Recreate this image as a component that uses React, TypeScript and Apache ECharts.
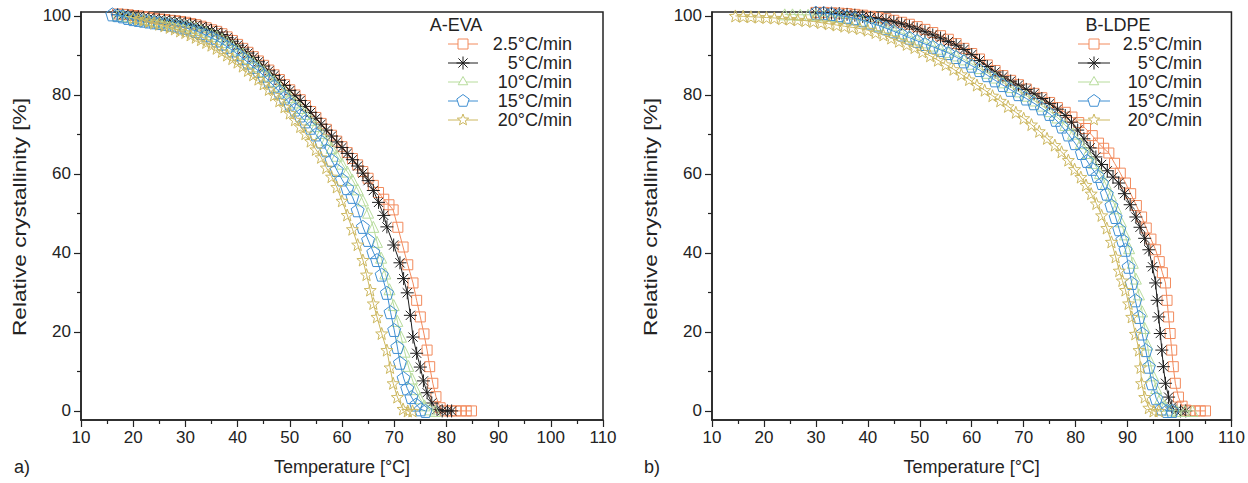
import React, { useEffect, useRef } from 'react';
import * as echarts from 'echarts';

const FONT = '"Liberation Sans", Arial, Helvetica, sans-serif';
const INK = '#232323';

const TEMP_LABEL = 'Temperature [°C]';
const CRYST_LABEL = 'Relative crystallinity [%]';
const RATES = ['2.5°C/min', '5°C/min', '10°C/min', '15°C/min', '20°C/min'];
const COLORS = ['#f28a5c', '#1e1e1e', '#b7dc9c', '#3f8fd2', '#cdb860'];
const Y_MAJOR = [0, 20, 40, 60, 80, 100];
const Y_MINOR = [10, 30, 50, 70, 90];

// A-EVA: [temperature °C, relative crystallinity %]
const EVA_2_5: [number, number][] = [
  [17, 100.5], [18, 100.4], [19, 100.3], [20, 100.1], [21, 100.0], [22, 99.8], [23, 99.6], [24, 99.4], [25, 99.2],
  [26, 99.1], [27, 98.9], [28, 98.8], [29, 98.6], [30, 98.4], [31, 98.1], [32, 97.8], [33, 97.4], [34, 97.0],
  [35, 96.5], [36, 96.1], [37, 95.5], [38, 94.7], [39, 93.8], [40, 92.8], [41, 91.8], [42, 90.8], [43, 89.7],
  [44, 88.6], [45, 87.5], [46, 86.3], [47, 85.1], [48, 83.9], [49, 82.6], [50, 81.3], [51, 80.0], [52, 78.8],
  [53, 77.3], [54, 75.8], [55, 74.3], [56, 72.8], [57, 71.3], [58, 69.8], [59, 68.3], [60, 66.9], [61, 65.4],
  [62, 63.9], [63, 62.3], [64, 60.6], [65, 58.9], [66, 57.1], [67, 55.3], [68, 53.6], [69, 52.2], [69.8, 50.9],
  [70.7, 46.5], [71.7, 41.5], [72.6, 37.0], [73.6, 32.4], [74.3, 28.0], [75.0, 23.8], [75.7, 19.5], [76.3, 15.4],
  [76.8, 11.2], [77.4, 7.0], [78.0, 3.6], [78.8, 0.8], [79.8, 0], [80.8, 0], [81.8, 0], [82.8, 0], [83.8, 0], [84.8, 0],
];
const EVA_5: [number, number][] = [
  [17, 100.3], [18, 100.2], [19, 100.1], [20, 99.9], [21, 99.8], [22, 99.6], [23, 99.4], [24, 99.2], [25, 99.0],
  [26, 98.9], [27, 98.7], [28, 98.6], [29, 98.4], [30, 98.2], [31, 97.9], [32, 97.6], [33, 97.2], [34, 96.8],
  [35, 96.3], [36, 95.9], [37, 95.3], [38, 94.5], [39, 93.6], [40, 92.6], [41, 91.6], [42, 90.6], [43, 89.5],
  [44, 88.4], [45, 87.3], [46, 86.1], [47, 84.9], [48, 83.7], [49, 82.4], [50, 81.1], [51, 79.8], [52, 78.6],
  [53, 77.1], [54, 75.6], [55, 74.1], [56, 72.6], [57, 71.1], [58, 69.6], [59, 68.1], [60, 66.7], [61, 65.2],
  [62, 63.6], [63, 62.0], [64, 60.2], [65, 58.3], [66, 55.8], [67, 52.8], [68, 49.5], [68.6, 46.6], [69.9, 42.0],
  [71.1, 37.5], [71.8, 33.5], [72.5, 29.9], [73.1, 24.2], [73.6, 18.7], [74.3, 14.6], [75.0, 11.1], [75.6, 7.6],
  [76.3, 4.6], [77.2, 2.0], [78.2, 0.4], [79.2, 0], [80.2, 0], [81.0, 0],
];
const EVA_10: [number, number][] = [
  [17, 100.1], [18, 100.0], [19, 99.8], [20, 99.6], [21, 99.4], [22, 99.2], [23, 99.0], [24, 98.8], [25, 98.6],
  [26, 98.5], [27, 98.3], [28, 98.1], [29, 97.9], [30, 97.6], [31, 97.3], [32, 96.9], [33, 96.5], [34, 96.0],
  [35, 95.4], [36, 94.9], [37, 94.2], [38, 93.4], [39, 92.5], [40, 91.5], [41, 90.5], [42, 89.4], [43, 88.3],
  [44, 87.3], [45, 86.1], [46, 84.9], [47, 83.6], [48, 82.3], [49, 80.9], [50, 79.5], [51, 78.1], [52, 76.7],
  [53, 75.2], [54, 73.7], [55, 72.1], [56, 70.4], [57, 68.6], [58, 66.6], [59, 64.6], [60, 62.6], [61, 60.6],
  [62, 58.5], [63, 56.1], [64, 53.3], [65, 50.2], [66, 46.6], [66.7, 42.8], [67.5, 38.8], [68.3, 34.8], [69.1, 30.8],
  [69.9, 26.8], [70.6, 22.8], [71.3, 18.8], [72.0, 15.0], [72.7, 11.4], [73.4, 8.2], [74.1, 5.5], [74.9, 3.2],
  [75.8, 1.4], [76.8, 0.4], [77.8, 0],
];
const EVA_15: [number, number][] = [
  [16, 100.4], [17, 100.2], [18, 99.9], [19, 99.5], [20, 99.2], [21, 99.0], [22, 98.8], [23, 98.6], [24, 98.4],
  [25, 98.2], [26, 98.0], [27, 97.8], [28, 97.6], [29, 97.3], [30, 97.0], [31, 96.6], [32, 96.2], [33, 95.7],
  [34, 95.1], [35, 94.5], [36, 93.8], [37, 93.0], [38, 92.2], [39, 91.3], [40, 90.3], [41, 89.3], [42, 88.2],
  [43, 87.1], [44, 86.1], [45, 84.9], [46, 83.6], [47, 82.2], [48, 80.8], [49, 79.3], [50, 77.8], [51, 76.3],
  [52, 74.8], [53, 73.3], [54, 71.7], [55, 70.0], [56, 68.2], [57, 66.0], [58, 63.5], [59, 61.0], [60, 58.6],
  [61, 56.4], [62, 54.2], [63, 50.8], [64, 46.6], [65, 43.3], [66, 40.2], [66.7, 38.2], [67.6, 34.5], [68.6, 29.9],
  [69.3, 25.0], [70.0, 20.5], [70.6, 16.2], [71.1, 12.2], [71.8, 8.3], [72.5, 5.7], [73.3, 3.5], [74.2, 1.6],
  [75.1, 0.4], [76.0, 0],
];
const EVA_20: [number, number][] = [
  [20, 99.5], [21, 99.2], [22, 98.9], [23, 98.6], [24, 98.2], [25, 97.9], [26, 97.5], [27, 97.1], [28, 96.7],
  [29, 96.2], [30, 95.8], [31, 95.2], [32, 94.6], [33, 94.0], [34, 93.3], [35, 92.6], [36, 91.8], [37, 91.0],
  [38, 90.1], [39, 89.2], [40, 88.3], [41, 87.3], [42, 86.2], [43, 85.1], [44, 84.0], [45, 82.8], [46, 81.4],
  [47, 80.0], [48, 78.5], [49, 77.0], [50, 75.4], [51, 73.7], [52, 72.0], [53, 70.2], [54, 68.3], [55, 66.2],
  [56, 64.2], [57, 61.6], [58, 59.3], [59, 56.7], [60, 53.2], [61, 49.6], [62, 46.0], [63, 42.1], [64, 38.2],
  [64.7, 34.5], [65.4, 30.6], [66.0, 27.2], [66.7, 23.8], [67.6, 19.6], [68.6, 15.4], [69.2, 11.0], [69.8, 7.0],
  [70.6, 3.5], [71.7, 0.5], [72.6, 0], [73.5, 0],
];

// B-LDPE: [temperature °C, relative crystallinity %]
const LDPE_2_5: [number, number][] = [
  [30, 100.9], [31.5, 100.9], [33, 100.8], [34.5, 100.7], [36, 100.6], [37.5, 100.4], [39, 100.2], [40.5, 99.9],
  [42, 99.6], [43.5, 99.3], [45, 98.9], [46.5, 98.4], [48, 97.9], [49.5, 97.3], [51, 96.6], [52.5, 95.8], [54, 95.0],
  [55.5, 94.1], [57, 93.0], [58.5, 91.8], [60, 90.5], [61.5, 89.1], [63, 87.6], [64.5, 86.2], [66, 84.9], [67.5, 83.7],
  [69, 82.6], [70.5, 81.5], [72, 80.4], [73.5, 79.3], [75, 78.1], [76.5, 76.8], [78, 75.6], [79.3, 74.4], [80.6, 73.0],
  [81.9, 71.5], [83.2, 69.7], [84.4, 67.8], [85.4, 66.5], [86.4, 65.3], [87.5, 62.7], [88.6, 60.2], [89.6, 57.7],
  [90.6, 55.0], [91.7, 52.0], [92.7, 49.1], [93.6, 46.3], [94.5, 43.5], [95.4, 40.8], [96.1, 37.8], [96.7, 35.0],
  [97.3, 32.4], [97.6, 28.0], [97.9, 23.8], [98.2, 19.6], [98.5, 15.4], [98.8, 11.2], [99.2, 7.0], [99.8, 3.5],
  [100.5, 1.2], [101.2, 0.2], [102, 0], [103, 0], [104, 0], [105, 0],
];
const LDPE_5: [number, number][] = [
  [30, 100.8], [31.5, 100.8], [33, 100.7], [34.5, 100.6], [36, 100.4], [37.5, 100.2], [39, 99.9], [40.5, 99.6],
  [42, 99.3], [43.5, 98.9], [45, 98.5], [46.5, 98.0], [48, 97.4], [49.5, 96.7], [51, 96.0], [52.5, 95.2], [54, 94.4],
  [55.5, 93.5], [57, 92.6], [58.5, 91.5], [60, 90.2], [61.5, 88.7], [63, 87.2], [64.5, 85.8], [66, 84.6], [67.5, 83.5],
  [69, 82.5], [70.5, 81.4], [72, 80.3], [73.5, 79.1], [75, 77.8], [76.5, 76.4], [78, 74.8], [79.2, 73.1], [80.4, 71.1],
  [81.6, 68.9], [82.8, 66.6], [83.9, 64.3], [85.0, 62.4], [86.1, 60.8], [87.2, 59.2], [88.3, 57.7], [89.4, 55.0],
  [90.5, 52.2], [91.6, 49.1], [92.4, 46.5], [93.3, 43.7], [94.1, 40.8], [94.8, 36.5], [95.4, 32.4], [95.7, 28.0],
  [96.0, 23.8], [96.3, 19.6], [96.6, 15.4], [96.9, 11.2], [97.3, 7.0], [97.9, 3.5], [98.5, 1.0], [99.3, 0],
  [100.2, 0], [101.2, 0],
];
const LDPE_10: [number, number][] = [
  [24, 100.4], [25.5, 100.4], [27, 100.3], [28.5, 100.3], [30, 100.2], [31.5, 100.1], [33, 100.0], [34.5, 99.8],
  [36, 99.5], [37.5, 99.2], [39, 98.8], [40.5, 98.3], [42, 97.7], [43.5, 97.1], [45, 96.4], [46.5, 95.7], [48, 94.9],
  [49.5, 94.1], [51, 93.3], [52.5, 92.5], [54, 91.7], [55.5, 90.9], [57, 90.0], [58.5, 89.0], [60, 87.9], [61.5, 86.8],
  [63, 85.6], [64.5, 84.4], [66, 83.2], [67.5, 82.0], [69, 80.9], [70.5, 79.8], [72, 78.6], [73.5, 77.3], [75, 75.9],
  [76.5, 74.3], [78, 72.4], [79.5, 70.2], [81, 67.8], [82.3, 65.3], [83.5, 62.8], [84.7, 60.2], [85.8, 57.5],
  [86.8, 54.5], [87.8, 51.3], [88.7, 48.0], [89.5, 44.7], [90.3, 41.2], [91.0, 37.5], [91.6, 33.5], [92.2, 29.5],
  [92.8, 25.2], [93.3, 21.0], [93.8, 16.8], [94.3, 12.8], [94.9, 9.0], [95.5, 5.8], [96.3, 3.2], [97.2, 1.3],
  [98.2, 0.3], [99.5, 0], [101, 0], [102.5, 0],
];
const LDPE_15: [number, number][] = [
  [30, 100.8], [31.5, 100.7], [33, 100.5], [34.5, 100.2], [36, 99.8], [37.5, 99.4], [39, 98.9], [40.5, 98.3],
  [42, 97.6], [43.5, 96.9], [45, 96.1], [46.5, 95.3], [48, 94.5], [49.5, 93.7], [51, 92.9], [52.5, 92.2], [54, 91.4],
  [55.5, 90.6], [57, 89.6], [58.5, 88.5], [60, 87.4], [61.5, 86.3], [63, 85.0], [64.5, 83.7], [66, 82.5], [67.5, 81.3],
  [69, 80.2], [70.5, 79.1], [72, 77.9], [73.5, 76.6], [75, 75.2], [76.2, 73.7], [77.4, 72.0], [78.6, 70.0], [79.9, 67.8],
  [81.2, 65.3], [82.2, 63.3], [83.2, 61.3], [84.2, 59.5], [85.1, 57.7], [86.0, 55.0], [86.9, 52.0], [87.7, 49.1],
  [88.4, 46.0], [89.0, 43.3], [89.6, 40.8], [90.2, 36.5], [90.8, 32.4], [91.5, 28.0], [92.2, 23.8], [92.8, 19.6],
  [93.5, 15.4], [94.1, 11.2], [94.7, 7.0], [95.5, 3.2], [96.6, 0.6], [97.6, 0], [98.6, 0],
];
const LDPE_20: [number, number][] = [
  [14.5, 100.0], [16, 99.9], [17.5, 99.8], [19, 99.7], [20.5, 99.6], [22, 99.5], [23.5, 99.3], [25, 99.2], [26.5, 99.0],
  [28, 98.8], [29.5, 98.6], [31, 98.3], [32.5, 98.0], [34, 97.7], [35.5, 97.4], [37, 97.1], [38.5, 96.8], [40, 96.4],
  [41.5, 95.8], [43, 95.2], [44.5, 94.4], [46, 93.6], [47.5, 92.8], [49, 92.0], [50.5, 90.9], [52, 89.9], [53.5, 88.8],
  [55, 87.7], [56.5, 86.5], [58, 85.2], [59.5, 83.9], [61, 82.5], [62.5, 81.2], [64, 79.8], [65.5, 78.5], [67, 77.1],
  [68.5, 75.6], [70, 74.1], [71.5, 72.5], [73, 70.8], [74.5, 69.0], [76, 67.3], [77.3, 65.6], [78.6, 63.5], [79.8, 61.2],
  [81, 59.2], [82, 57.2], [83, 55.0], [84, 52.5], [85, 49.5], [86, 46.3], [86.9, 42.8], [87.7, 39.0], [88.4, 35.5],
  [89.0, 33.0], [89.6, 30.6], [90.2, 27.2], [90.8, 23.8], [91.5, 19.5], [92.2, 15.4], [92.5, 11.0], [92.7, 7.0],
  [93.3, 3.5], [94.1, 0.8], [95, 0], [96, 0],
];

const EVA_SERIES = [EVA_2_5, EVA_5, EVA_10, EVA_15, EVA_20];
const LDPE_SERIES = [LDPE_2_5, LDPE_5, LDPE_10, LDPE_15, LDPE_20];

// Marker outlines on a unit box centred at 0,0
type Pt = [number, number];
const ring = (n: number, r: (i: number) => number, start = -90): Pt[] =>
  Array.from({ length: n }, (_, i) => {
    const a = ((start + (360 / n) * i) * Math.PI) / 180;
    return [+(Math.cos(a) * r(i)).toFixed(3), +(Math.sin(a) * r(i)).toFixed(3)] as Pt;
  });
const SQUARE: Pt[] = [[-1, -1], [1, -1], [1, 1], [-1, 1]];
const TRIANGLE: Pt[] = ring(3, () => 1);
const PENTAGON: Pt[] = ring(5, () => 1);
const STAR: Pt[] = ring(10, (i) => (i % 2 === 0 ? 1 : 0.42));
const ASTERISK: [Pt, Pt][] = [0, 45, 90, 135].map((d) => {
  const a = (d * Math.PI) / 180;
  const c = +Math.cos(a).toFixed(3);
  const s = +Math.sin(a).toFixed(3);
  return [[-c, -s], [c, s]] as [Pt, Pt];
});

const polyPath = (pts: Pt[]) => 'path://M' + pts.map((p) => p.join(',')).join('L') + 'Z';
const asteriskPath = 'path://' + ASTERISK.map(([a, b]) => `M${a[0]},${a[1]}L${b[0]},${b[1]}`).join('');

const MARKERS = [
  { symbol: polyPath(SQUARE), size: 10, kind: 'poly', pts: SQUARE },
  { symbol: asteriskPath, size: 13, kind: 'asterisk', pts: [] as Pt[] },
  { symbol: polyPath(TRIANGLE), size: 11, kind: 'poly', pts: TRIANGLE },
  { symbol: polyPath(PENTAGON), size: 13, kind: 'poly', pts: PENTAGON },
  { symbol: polyPath(STAR), size: 12, kind: 'poly', pts: STAR },
];

function legendMarker(i: number, cx: number, cy: number) {
  const m = MARKERS[i];
  const r = m.size / 2;
  const color = COLORS[i];
  if (m.kind === 'asterisk') {
    return {
      type: 'group',
      children: ASTERISK.map(([a, b]) => ({
        type: 'line',
        shape: { x1: cx + a[0] * r, y1: cy + a[1] * r, x2: cx + b[0] * r, y2: cy + b[1] * r },
        style: { stroke: color, lineWidth: 1 },
      })),
    };
  }
  return {
    type: 'polygon',
    shape: { points: m.pts.map((p) => [cx + p[0] * r, cy + p[1] * r]) },
    style: { fill: '#fff', stroke: color, lineWidth: 1 },
  };
}

function legend(title: string, titleX: number, x0: number, x1: number, textRight: number) {
  const rows = [44, 63, 82, 101, 120];
  const items: any[] = [
    {
      type: 'text',
      x: titleX,
      y: 25,
      style: { text: title, fill: INK, font: `18px ${FONT}`, textAlign: 'center', textVerticalAlign: 'middle' },
    },
  ];
  RATES.forEach((label, i) => {
    const y = rows[i];
    items.push({
      type: 'line',
      shape: { x1: x0, y1: y, x2: x1, y2: y },
      style: { stroke: COLORS[i], lineWidth: 1 },
    });
    items.push(legendMarker(i, (x0 + x1) / 2, y));
    items.push({
      type: 'text',
      x: textRight,
      y,
      style: { text: label, fill: INK, font: `18px ${FONT}`, textAlign: 'right', textVerticalAlign: 'middle' },
    });
  });
  return { type: 'group', children: items };
}

// Vertical axis title, drawn a little elongated along its reading direction
function yTitle(x: number) {
  return {
    type: 'text',
    x,
    y: 217,
    rotation: Math.PI / 2,
    scaleX: 1.26,
    style: { text: CRYST_LABEL, fill: INK, font: `18px ${FONT}`, textAlign: 'center', textVerticalAlign: 'middle' },
  };
}

const Y_MIN = -2.3;
const Y_MAX = 101;

function xAxis(gridIndex: number) {
  return {
    gridIndex,
    type: 'value',
    min: 10,
    max: 110,
    interval: 10,
    name: TEMP_LABEL,
    nameLocation: 'middle',
    nameGap: 38,
    nameTextStyle: { fontSize: 18, color: INK, fontFamily: FONT },
    axisLine: { show: true, onZero: false, lineStyle: { color: INK, width: 1.5 } },
    axisTick: { show: true, inside: false, length: 7, lineStyle: { color: INK, width: 1.2 } },
    minorTick: { show: true, splitNumber: 2, length: 4, lineStyle: { color: INK, width: 1.2 } },
    axisLabel: { fontSize: 17, color: INK, margin: 9, fontFamily: FONT },
    splitLine: { show: false },
    minorSplitLine: { show: false },
  };
}

function yAxis(gridIndex: number) {
  return {
    gridIndex,
    type: 'value',
    min: Y_MIN,
    max: Y_MAX,
    position: 'left',
    axisLine: { show: true, onZero: false, lineStyle: { color: INK, width: 1.5 } },
    axisTick: { show: true, inside: false, length: 7, customValues: Y_MAJOR, lineStyle: { color: INK, width: 1.2 } },
    axisLabel: { customValues: Y_MAJOR, fontSize: 17, color: INK, margin: 10, fontFamily: FONT },
    splitLine: { show: false },
  };
}

function yMinorAxis(gridIndex: number) {
  return {
    gridIndex,
    type: 'value',
    min: Y_MIN,
    max: Y_MAX,
    position: 'left',
    axisLine: { show: false, onZero: false },
    axisTick: { show: true, inside: false, length: 4, customValues: Y_MINOR, lineStyle: { color: INK, width: 1.2 } },
    axisLabel: { show: false },
    splitLine: { show: false },
  };
}

function seriesFor(sets: [number, number][][], gridIndex: number) {
  return sets.map((data, i) => ({
    type: 'line',
    name: RATES[i],
    xAxisIndex: gridIndex,
    yAxisIndex: gridIndex * 2,
    data,
    symbol: MARKERS[i].symbol,
    symbolSize: MARKERS[i].size,
    lineStyle: { color: COLORS[i], width: 1 },
    itemStyle: { color: 'rgba(255,255,255,0)', borderColor: COLORS[i], borderWidth: 1 },
    emphasis: { disabled: true },
    silent: true,
    z: 2 + i,
  }));
}

export default function App() {
  const ref = useRef<HTMLDivElement>(null);

  useEffect(() => {
    if (!ref.current) return;
    const chart = echarts.init(ref.current, null, { renderer: 'svg' });
    chart.setOption({
      animation: false,
      backgroundColor: '#ffffff',
      textStyle: { fontFamily: FONT },
      grid: [
        { left: 81, top: 12, width: 522, height: 408, show: true, borderColor: INK, borderWidth: 1.5, backgroundColor: 'transparent' },
        { left: 712, top: 12, width: 521, height: 408, show: true, borderColor: INK, borderWidth: 1.5, backgroundColor: 'transparent' },
      ],
      xAxis: [xAxis(0), xAxis(1)],
      yAxis: [yAxis(0), yMinorAxis(0), yAxis(1), yMinorAxis(1)],
      series: [...seriesFor(EVA_SERIES, 0), ...seriesFor(LDPE_SERIES, 1)],
      graphic: [
        yTitle(19),
        yTitle(650),
        legend('A-EVA', 456, 448, 478, 572),
        legend('B-LDPE', 1118, 1078, 1110, 1202),
        { type: 'text', x: 22, y: 467, style: { text: 'a)', fill: INK, font: `18px ${FONT}`, textAlign: 'center', textVerticalAlign: 'middle' } },
        { type: 'text', x: 652, y: 467, style: { text: 'b)', fill: INK, font: `18px ${FONT}`, textAlign: 'center', textVerticalAlign: 'middle' } },
      ],
    });
    return () => chart.dispose();
  }, []);

  return <div ref={ref} style={{ position: 'absolute', left: 0, top: 0, width: 1248, height: 483 }} />;
}
